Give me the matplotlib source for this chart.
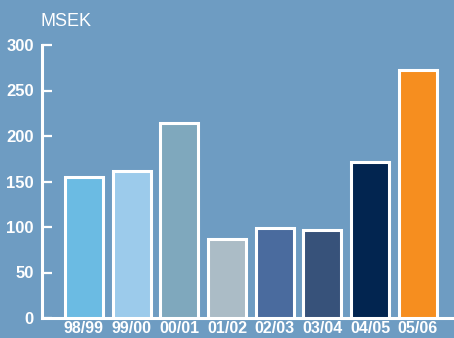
import matplotlib
matplotlib.use("Agg")
import matplotlib.pyplot as plt
import numpy as np

# Yearly figures, MSEK
years = ["98/99", "99/00", "00/01", "01/02", "02/03", "03/04", "04/05", "05/06"]
values = [155, 162, 214, 87, 99, 97, 171, 272]
colors = ["#6bbbe3", "#9ccbeb", "#7fa8bd", "#abbcc6",
          "#4a6b9e", "#37527a", "#022550", "#f68e1f"]

bg = "#6e9cc2"
plt.rcParams["font.family"] = ["Liberation Sans", "DejaVu Sans"]

fig = plt.figure(figsize=(4.54, 3.38), dpi=100, facecolor=bg)
ax = fig.add_axes([42 / 454, 1 - 318 / 338, 412 / 454, 273 / 338])
ax.set_facecolor(bg)

x = np.arange(len(years))
ax.bar(x, values, width=0.8, color=colors, edgecolor="white", linewidth=2.2, zorder=3)

ax.set_xlim(-0.88, 7.76)
ax.set_ylim(0, 300)
ax.set_yticks([0, 50, 100, 150, 200, 250, 300])
ax.set_xticks(x)
ax.set_xticklabels(years)

for side in ("top", "right"):
    ax.spines[side].set_visible(False)
for side in ("left", "bottom"):
    ax.spines[side].set_color("white")
    ax.spines[side].set_linewidth(2.2)

ax.tick_params(axis="y", direction="in", length=7.5, width=1.6, color="white",
               labelcolor="white", labelsize=12, pad=6)
ax.tick_params(axis="x", length=0, labelcolor="white", labelsize=11.5, pad=2)
for lbl in ax.get_yticklabels() + ax.get_xticklabels():
    lbl.set_fontweight("bold")

fig.text(40 / 454, 1 - 21 / 338, "MSEK", color="white", fontsize=13, va="center", ha="left")

fig.savefig("out.png", dpi=100, facecolor=bg)
